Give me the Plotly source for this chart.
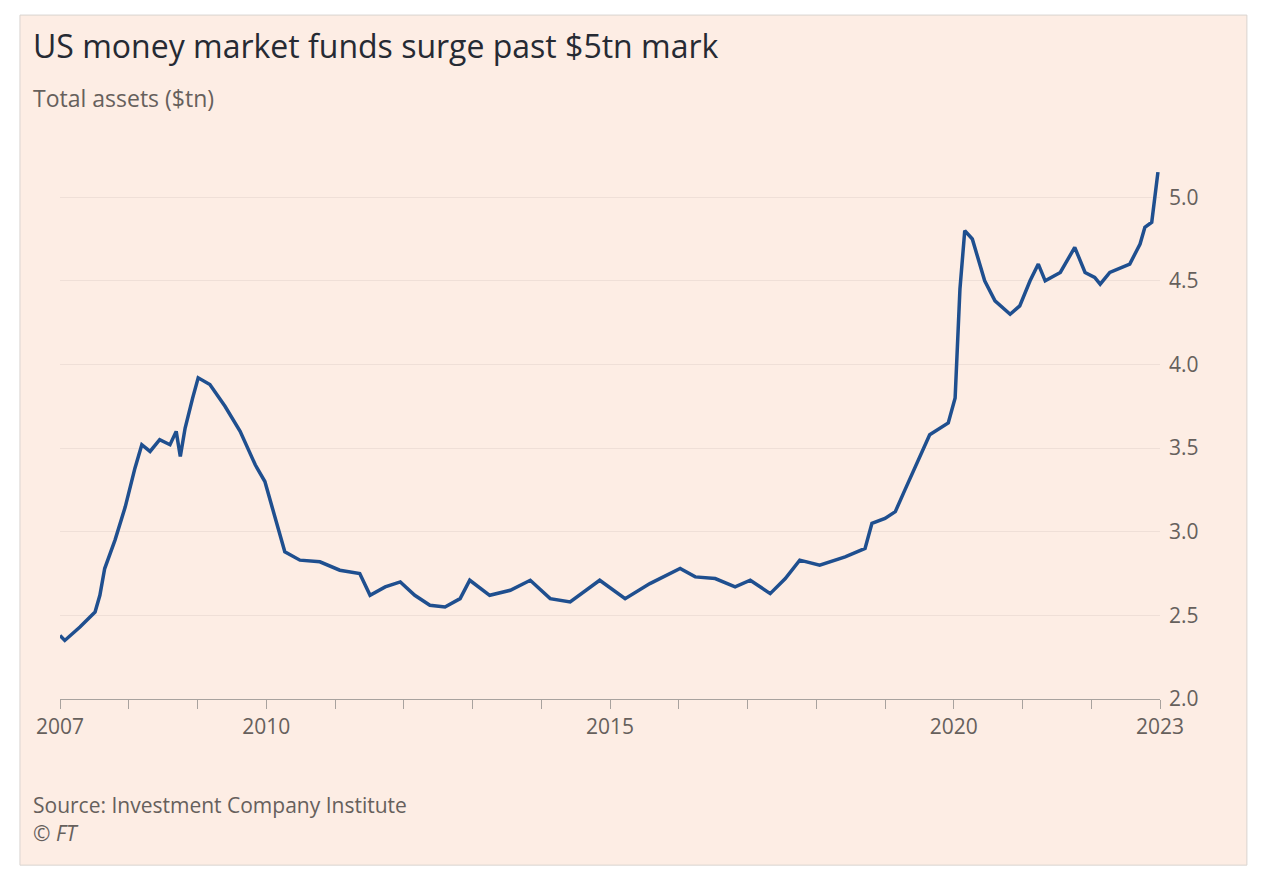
import plotly.graph_objects as go

# weekly-ish reading of total assets ($tn), decimal years
years = [2007.00, 2007.07, 2007.29, 2007.51, 2007.58, 2007.65, 2007.80, 2007.95, 2008.09, 2008.19,
         2008.31, 2008.45, 2008.60, 2008.69, 2008.75, 2008.82, 2008.93, 2009.01, 2009.18, 2009.40,
         2009.62, 2009.84, 2009.98, 2010.13, 2010.27, 2010.49, 2010.78, 2011.07, 2011.36, 2011.51,
         2011.73, 2011.95, 2012.16, 2012.38, 2012.60, 2012.82, 2012.96, 2013.25, 2013.55, 2013.84,
         2014.13, 2014.42, 2014.85, 2015.22, 2015.58, 2016.02, 2016.24, 2016.53, 2016.82, 2017.04,
         2017.33, 2017.55, 2017.76, 2018.05, 2018.42, 2018.71, 2018.81, 2019.00, 2019.15, 2019.29,
         2019.51, 2019.65, 2019.92, 2020.02, 2020.09, 2020.16, 2020.27, 2020.45, 2020.60, 2020.82,
         2020.96, 2021.11, 2021.23, 2021.33, 2021.55, 2021.76, 2021.91, 2022.05, 2022.13, 2022.27,
         2022.56, 2022.71, 2022.78, 2022.88, 2022.97]
assets = [2.38, 2.35, 2.43, 2.52, 2.62, 2.78, 2.95, 3.15, 3.38, 3.52,
          3.48, 3.55, 3.52, 3.60, 3.45, 3.62, 3.80, 3.92, 3.88, 3.75,
          3.60, 3.40, 3.30, 3.08, 2.88, 2.83, 2.82, 2.77, 2.75, 2.62,
          2.67, 2.70, 2.62, 2.56, 2.55, 2.60, 2.71, 2.62, 2.65, 2.71,
          2.60, 2.58, 2.71, 2.60, 2.69, 2.78, 2.73, 2.72, 2.67, 2.71,
          2.63, 2.72, 2.83, 2.80, 2.85, 2.90, 3.05, 3.08, 3.12, 3.25,
          3.45, 3.58, 3.65, 3.80, 4.45, 4.80, 4.75, 4.50, 4.38, 4.30,
          4.35, 4.50, 4.60, 4.50, 4.55, 4.70, 4.55, 4.52, 4.48, 4.55,
          4.60, 4.72, 4.82, 4.85, 5.15]
tick_years = list(range(2007, 2024))
labelled = {2007, 2010, 2015, 2020, 2023}
y_ticks = [2.0, 2.5, 3.0, 3.5, 4.0, 4.5, 5.0]

BG = '#fdede4'
GREY = '#66605c'

fig = go.Figure()
fig.add_trace(go.Scatter(x=years, y=assets, mode='lines',
                         line=dict(color='#1f4f8f', width=3.5), hoverinfo='skip'))

fig.add_shape(type='rect', xref='paper', yref='paper', x0=-0.0364, x1=1.079, y0=-0.301, y1=1.239,
              fillcolor=BG, line=dict(color='#d9d4d0', width=1), layer='below')

fig.update_layout(
    width=1284, height=896,
    margin=dict(l=52, r=132, t=139, b=205),
    paper_bgcolor='white', plot_bgcolor='rgba(0,0,0,0)',
    showlegend=False,
    font=dict(family='Open Sans, Noto Sans, sans-serif', color=GREY),
    xaxis=dict(range=[2007, 2023], tickvals=tick_years,
               ticktext=[str(y) if y in labelled else '' for y in tick_years],
               ticks='outside', ticklen=9, tickcolor='#a8a29e', showgrid=False,
               showline=True, linecolor='#a8a29e', zeroline=False,
               tickfont=dict(size=21, color=GREY)),
    yaxis=dict(range=[2.0, 5.3], tickvals=y_ticks, ticktext=[f'{v:.1f}' for v in y_ticks],
               side='right', showgrid=True, gridcolor='#efdfd7', zeroline=False,
               ticks='', ticklabelstandoff=8, tickfont=dict(size=21, color=GREY)),
)

fig.add_annotation(text='US money market funds surge past $5tn mark', xref='paper', yref='paper',
                   x=-0.026, y=1.183, xanchor='left', yanchor='middle', showarrow=False,
                   font=dict(size=32, color='#262a33'))
fig.add_annotation(text='Total assets ($tn)', xref='paper', yref='paper',
                   x=-0.026, y=1.089, xanchor='left', yanchor='middle', showarrow=False,
                   font=dict(size=23, color=GREY))
fig.add_annotation(text='Source: Investment Company Institute', xref='paper', yref='paper',
                   x=-0.026, y=-0.192, xanchor='left', yanchor='middle', showarrow=False,
                   font=dict(size=21, color=GREY))
fig.add_annotation(text='<i>© FT</i>', xref='paper', yref='paper',
                   x=-0.026, y=-0.243, xanchor='left', yanchor='middle', showarrow=False,
                   font=dict(size=21, color=GREY))

fig.write_html('out.html')
